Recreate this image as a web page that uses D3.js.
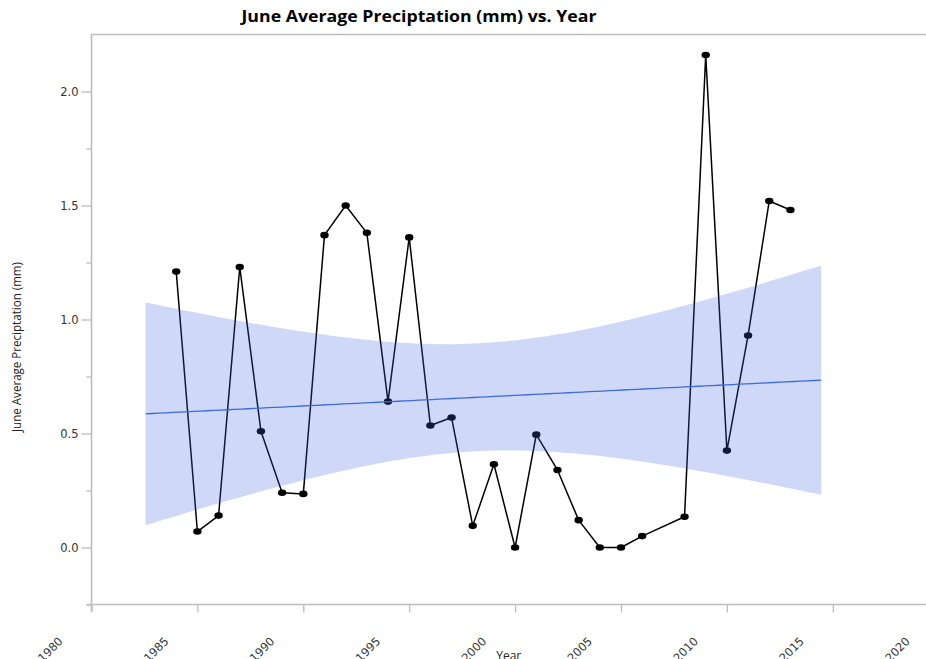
<!DOCTYPE html>
<html>
<head>
<meta charset="utf-8">
<script src="https://cdn.jsdelivr.net/npm/d3@7/dist/d3.min.js"></script>
<style>
  html, body { margin: 0; padding: 0; background: #fff; overflow: hidden; }
  svg { display: block; }
</style>
</head>
<body>
<svg id="chart" width="926" height="659"></svg>
<script>
// June average precipitation per year (2007 has no record)
const years = [1984, 1985, 1986, 1987, 1988, 1989, 1990, 1991, 1992, 1993,
               1994, 1995, 1996, 1997, 1998, 1999, 2000, 2001, 2002, 2003,
               2004, 2005, 2006, 2008, 2009, 2010, 2011, 2012, 2013];
const precip = [1.21, 0.07, 0.14, 1.23, 0.51, 0.24, 0.235, 1.37, 1.50, 1.38,
                0.64, 1.36, 0.535, 0.57, 0.095, 0.365, 0.0, 0.495, 0.34, 0.12,
                0.0, 0.0, 0.05, 0.135, 2.16, 0.425, 0.93, 1.52, 1.48];

// Axis ticks
const xTicks = [1980, 1985, 1990, 1995, 2000, 2005, 2010, 2015, 2020];
const yMajorTicks = [0.0, 0.5, 1.0, 1.5, 2.0];
const yMinorTicks = [-0.25, 0.25, 0.75, 1.25, 1.75];

const titleText = "June Average Preciptation (mm) vs. Year";
const xLabel = "Year";
const yLabel = "June Average Preciptation (mm)";

const svg = d3.select("#chart");
const W = 926, H = 659;

const x = d3.scaleLinear().domain([1980, 2020]).range([91.5, 938.7]);
const y = d3.scaleLinear().domain([-0.25, 2.25]).range([604.5, 34.5]);

const tickFont = "'DejaVu Sans', Verdana, sans-serif";
const spineColor = "#bdbdbd";

// ---- Linear fit with 95% confidence band ----
const n = years.length;
const mx = d3.mean(years), my = d3.mean(precip);
let sxy = 0, sxx = 0;
for (let i = 0; i < n; i++) {
  sxy += (years[i] - mx) * (precip[i] - my);
  sxx += (years[i] - mx) * (years[i] - mx);
}
const slope = sxy / sxx;
const intercept = my - slope * mx;
let sse = 0;
for (let i = 0; i < n; i++) {
  const r = precip[i] - (intercept + slope * years[i]);
  sse += r * r;
}
const s = Math.sqrt(sse / (n - 2));
const tCrit = 2.052; // t(0.975, df = 27)
const xMin = d3.min(years), xMax = d3.max(years);
const pad = (xMax - xMin) * 0.05;
const grid = d3.range(0, 100).map(i => (xMin - pad) + i * ((xMax - xMin + 2 * pad) / 99));
const fit = grid.map(g => {
  const yh = intercept + slope * g;
  const se = s * Math.sqrt(1 / n + (g - mx) * (g - mx) / sxx);
  return { x: g, y: yh, lo: yh - tCrit * se, hi: yh + tCrit * se };
});

// ---- Axes ----
svg.append("defs").append("clipPath").attr("id", "view")
  .append("rect").attr("x", 0).attr("y", 0).attr("width", W).attr("height", H);

const root = svg.append("g").attr("clip-path", "url(#view)");

// top spine
root.append("line")
  .attr("x1", x(1980)).attr("x2", x(2020))
  .attr("y1", y(2.25)).attr("y2", y(2.25))
  .attr("stroke", spineColor).attr("stroke-width", 1.6);

// y axis: major ticks with labels
const yAxis = root.append("g")
  .attr("transform", `translate(${x(1980)},0)`)
  .call(d3.axisLeft(y).tickValues(yMajorTicks).tickSize(10).tickPadding(3)
        .tickFormat(d3.format(".1f")));
yAxis.select(".domain").attr("stroke", spineColor).attr("stroke-width", 1.6)
  .attr("d", `M0,${y(2.25)}V${y(-0.25) + 7}`);
yAxis.selectAll(".tick line").attr("stroke", spineColor).attr("stroke-width", 1.3);
yAxis.selectAll(".tick text")
  .attr("fill", "#333").style("font-family", tickFont).style("font-size", "11.5px");

// y axis: minor ticks
const yMinor = root.append("g")
  .attr("transform", `translate(${x(1980)},0)`)
  .call(d3.axisLeft(y).tickValues(yMinorTicks).tickSize(5).tickFormat(""));
yMinor.select(".domain").remove();
yMinor.selectAll(".tick line").attr("stroke", spineColor).attr("stroke-width", 1.3);

// x axis
const xAxis = root.append("g")
  .attr("transform", `translate(0,${y(-0.25)})`)
  .call(d3.axisBottom(x).tickValues(xTicks).tickSize(8).tickFormat(d3.format("d")));
xAxis.select(".domain").attr("stroke", spineColor).attr("stroke-width", 1.6)
  .attr("d", `M${x(1980) - 5},0H${x(2020)}`);
xAxis.selectAll(".tick line").attr("stroke", spineColor).attr("stroke-width", 1.3);
xAxis.selectAll(".tick text")
  .attr("fill", "#333").style("font-family", tickFont).style("font-size", "11.5px")
  .attr("text-anchor", "end")
  .attr("y", 0).attr("dy", 0)
  .attr("transform", "translate(-28.5,37.5) rotate(-45)");

// ---- Observed series ----
const obs = years.map((yr, i) => [yr, precip[i]]);

root.append("path")
  .datum(obs)
  .attr("fill", "none")
  .attr("stroke", "#000")
  .attr("stroke-width", 1.5)
  .attr("stroke-linejoin", "round")
  .attr("d", d3.line().x(d => x(d[0])).y(d => y(d[1])));

root.append("g").selectAll("ellipse")
  .data(obs)
  .join("ellipse")
  .attr("cx", d => x(d[0]))
  .attr("cy", d => y(d[1]))
  .attr("rx", 4.2)
  .attr("ry", 3.3)
  .attr("fill", "#000");

// ---- Confidence band and fitted line ----
root.append("path")
  .datum(fit)
  .attr("fill", "#4169e1")
  .attr("fill-opacity", 0.25)
  .attr("d", d3.area().x(d => x(d.x)).y0(d => y(d.lo)).y1(d => y(d.hi)));

root.append("path")
  .datum(fit)
  .attr("fill", "none")
  .attr("stroke", "#3b6be0")
  .attr("stroke-width", 1.3)
  .attr("d", d3.line().x(d => x(d.x)).y(d => y(d.y)));

// ---- Titles ----
svg.append("text")
  .attr("x", 419).attr("y", 22)
  .attr("text-anchor", "middle")
  .attr("textLength", 355)
  .attr("lengthAdjust", "spacingAndGlyphs")
  .style("font-family", "'Open Sans', sans-serif")
  .style("font-weight", "bold")
  .style("font-size", "15.5px")
  .attr("fill", "#000")
  .text(titleText);

svg.append("text")
  .attr("x", (x(1980) + W) / 2).attr("y", 660)
  .attr("text-anchor", "middle")
  .style("font-family", "'Open Sans', sans-serif")
  .style("font-size", "12px")
  .attr("fill", "#222")
  .text(xLabel);

svg.append("text")
  .attr("transform", "translate(21,347) rotate(-90)")
  .attr("text-anchor", "middle")
  .attr("textLength", 170)
  .attr("lengthAdjust", "spacingAndGlyphs")
  .style("font-family", "'Open Sans', sans-serif")
  .style("font-size", "12px")
  .attr("fill", "#222")
  .text(yLabel);
</script>
</body>
</html>
